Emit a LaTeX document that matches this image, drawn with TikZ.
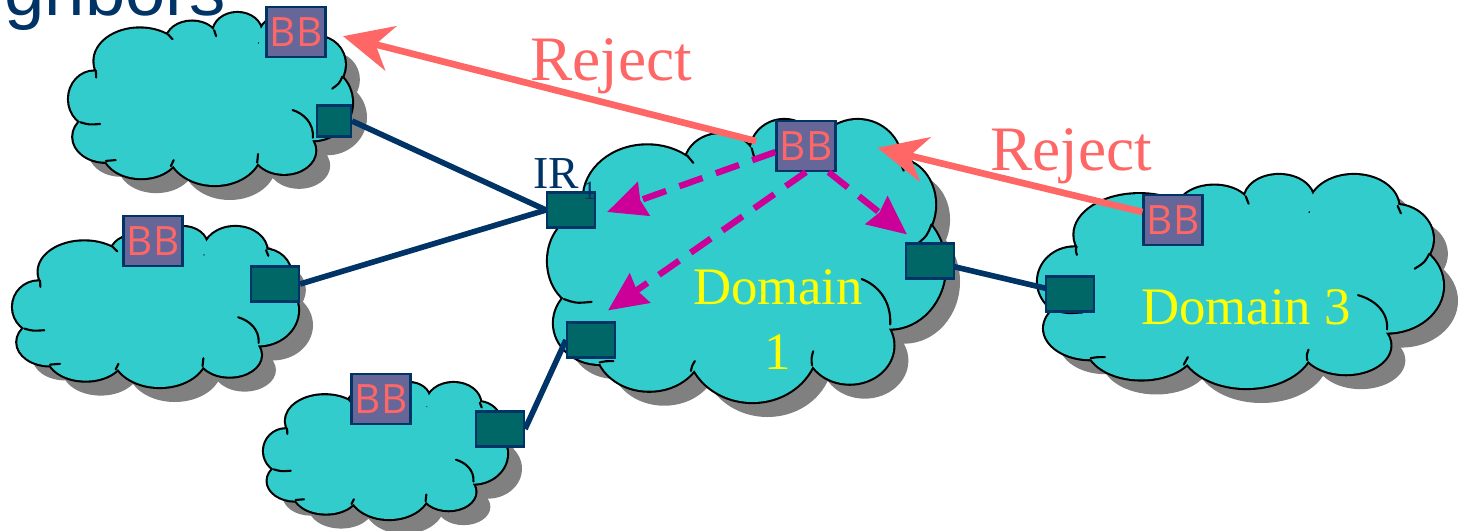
\documentclass[tikz,border=0pt]{standalone}
\usepackage{fontspec}
\setmainfont{Liberation Serif}
\newfontfamily\bbfont{Open Sans}
\newfontfamily\headfont{Liberation Sans}
\usetikzlibrary{arrows.meta}
\pgfdeclarelayer{clouds}
\pgfdeclarelayer{links}
\pgfsetlayers{clouds,links,main}
\definecolor{cloudfill}{HTML}{33CCCC}
\definecolor{shadowgray}{HTML}{808080}
\definecolor{bbfill}{HTML}{666699}
\definecolor{navy}{HTML}{003366}
\definecolor{salmon}{HTML}{FF6666}
\definecolor{tealbox}{HTML}{006666}
\definecolor{querymag}{HTML}{CC0099}
\definecolor{yel}{HTML}{FFFF00}
% lobes of the cloud, in a unit box (u right, v down)
\newcommand\cloudlobes[1]{\path[#1]
 (0.5,0.5) ellipse[x radius=0.38,y radius=0.36]
 (0.09,0.5) ellipse[x radius=0.09,y radius=0.16]
 (0.25,0.28) ellipse[x radius=0.16,y radius=0.19]
 (0.435,0.16) ellipse[x radius=0.09,y radius=0.11]
 (0.595,0.115) ellipse[x radius=0.085,y radius=0.115]
 (0.78,0.15) ellipse[x radius=0.11,y radius=0.15]
 (0.88,0.3) ellipse[x radius=0.095,y radius=0.16]
 (0.86,0.52) ellipse[x radius=0.14,y radius=0.22]
 (0.76,0.8) ellipse[x radius=0.11,y radius=0.135]
 (0.515,0.79) ellipse[x radius=0.165,y radius=0.21]
 (0.255,0.8) ellipse[x radius=0.135,y radius=0.16]
 (0.13,0.72) ellipse[x radius=0.115,y radius=0.145];}
\newcommand\cloudstubs{\draw[line width=0.6pt, line cap=round]
 (0.04,0.635) .. controls (0.07,0.65) .. (0.11,0.645)
 (0.79,0.564) .. controls (0.83,0.585) and (0.865,0.64) .. (0.862,0.725)
 (0.966,0.37) .. controls (0.955,0.41) .. (0.93,0.44)
 (0.665,0.87) .. controls (0.663,0.845) .. (0.668,0.82)
 (0.36,0.89) .. controls (0.363,0.87) .. (0.37,0.855)
 (0.13,0.86) .. controls (0.145,0.855) .. (0.165,0.855)
 (0.095,0.335) .. controls (0.093,0.355) .. (0.096,0.375)
 (0.513,0.1) .. controls (0.515,0.12) .. (0.52,0.135)
 (0.888,0.145) .. controls (0.89,0.16) .. (0.896,0.18)
 (0.35,0.125) .. controls (0.356,0.14) .. (0.366,0.152);}
\newcommand\drawcloud[4]{%
 \pgfmathsetlengthmacro\cloudw{#3*0.01cm}%
 \pgfmathsetlengthmacro\cloudh{#4*0.01cm}%
 \begin{scope}[shift={(#1+15,#2+15)}, x=\cloudw, y=-\cloudh]\cloudlobes{fill=shadowgray}\end{scope}
 \begin{scope}[shift={(#1,#2)}, x=\cloudw, y=-\cloudh]
   \cloudlobes{draw=black,line width=1.2pt}\cloudlobes{fill=cloudfill}\cloudstubs
 \end{scope}}
\begin{document}
\begin{tikzpicture}[x=0.01cm,y=-0.01cm,
  bbbox/.style={draw=navy, line width=0.6pt, fill=bbfill, minimum width=0.59cm,
    minimum height=0.5cm, inner sep=0pt, text=salmon,
    font=\bbfont\fontsize{11.5}{12}\selectfont},
  router/.style={draw=navy, line width=0.6pt, fill=tealbox, minimum width=0.48cm,
    minimum height=0.35cm, inner sep=0pt},
  link/.style={draw=navy, line width=1.6pt},
  reject/.style={draw=salmon, line width=1.9pt,
    -{Stealth[length=14pt,width=13pt,inset=4.5pt]}},
  query/.style={draw=querymag, line width=1.8pt, dash pattern=on 7pt off 4pt,
    -{Stealth[length=11pt,width=10pt,inset=1pt]}},
  lbl/.style={inner sep=0pt, anchor=base},
]
\useasboundingbox (0,0) rectangle (1460,530);

\begin{pgfonlayer}{clouds}
\drawcloud{69}{13}{283}{172}
\drawcloud{13}{227}{285}{160}
\drawcloud{264}{383}{243}{136}
\drawcloud{548}{120}{397}{282}
\drawcloud{1038}{175}{405}{213}
\end{pgfonlayer}

\node[anchor=base west, inner sep=0pt, font=\headfont\fontsize{20.6}{24}\selectfont, text=navy] (title) at (4,15) {ghbors};

\node[router, minimum width=0.34cm, minimum height=0.31cm] (rA) at (334,121) {};
\node[router] (rB) at (275,284) {};
\node[router] (rC) at (500,429) {};
\node[router] (ir) at (571,210) {};
\node[router] (r1s) at (591,340) {};
\node[router] (r1e) at (930,261) {};
\node[router] (r3) at (1070,294) {};

\node[bbbox] (bbA) at (296,32) {BB};
\node[bbbox] (bbB) at (153,241) {BB};
\node[bbbox] (bbC) at (381,399) {BB};
\node[bbbox] (bb1) at (806,146) {BB};
\node[bbbox] (bb3) at (1173,220) {BB};

\begin{pgfonlayer}{links}
\draw[link] (rA.east) -- (ir.west);
\draw[link] (rB.east) -- (ir.west);
\draw[link] (rC.east) -- (r1s.west);
\draw[link] (r1e.center) -- (r3.center);
\end{pgfonlayer}

\node[lbl, font=\fontsize{18}{20}\selectfont, text=salmon] (rej1) at (611,80) {Reject};
\node[lbl, font=\fontsize{18}{20}\selectfont, text=salmon] (rej2) at (1071,170) {Reject};
\node[inner sep=0pt, align=center, font=\fontsize{15}{18.5}\selectfont, text=yel] (d1) at (778,320) {Domain\\1};
\node[lbl, font=\fontsize{15}{18}\selectfont, text=yel] (d3) at (1246,324) {Domain 3};
\node[lbl, anchor=base west, font=\fontsize{13}{15}\selectfont, text=navy] (irl) at (533,188) {IR\kern1pt\raisebox{-3.4pt}{\fontsize{7.5}{8}\selectfont 1}};

\draw[reject, shorten <=0.2cm, shorten >=0.17cm] (bb1.west) -- (bbA.east);
\draw[reject, shorten >=0.42cm] ([yshift=0.08cm]bb3.west) -- ([yshift=0.08cm]bb1.east);

\draw[query] ([yshift=-0.06cm]bb1.west) -- ([xshift=0.11cm,yshift=-0.02cm]ir.east);
\draw[query] (bb1.south) -- ([xshift=0.17cm,yshift=0.11cm]r1s.north);
\draw[query] ([xshift=-0.08cm]bb1.south east) -- ([xshift=0.02cm,yshift=0.08cm]r1e.north west);
\end{tikzpicture}
\end{document}
